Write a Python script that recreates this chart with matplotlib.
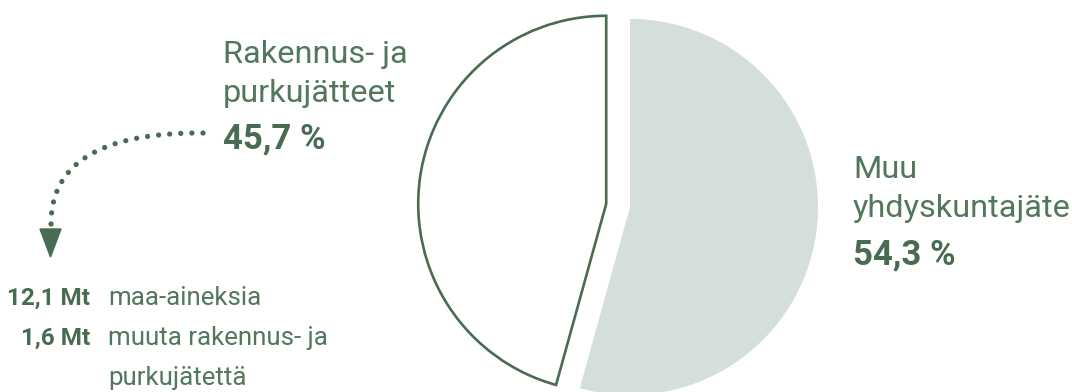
import numpy as np
import matplotlib
matplotlib.use("Agg")
import matplotlib.pyplot as plt
from matplotlib.patches import Polygon

# ---- data ----
categories = ["Rakennus- ja\npurkujätteet", "Muu\nyhdyskuntajäte"]
shares = [45.7, 54.3]
share_labels = ["45,7 %", "54,3 %"]
detail_values = ["12,1 Mt", "1,6 Mt"]
detail_labels = ["maa-aineksia", "muuta rakennus- ja\npurkujätettä"]

# ---- style ----
W, H = 1072, 392
dark = "#496b52"
text_c = "#52775d"
fill_c = "#d4dfd9"
FONT = "Roboto"

fig = plt.figure(figsize=(W / 100, H / 100), dpi=100)
ax = fig.add_axes([0, 0, 1, 1])

R = 188
wedges, _ = ax.pie(shares, startangle=90, counterclock=True,
                   center=(630, H - 207), radius=R,
                   explode=[24, 0], colors=["white", fill_c],
                   frame=True)
ax.set_xlim(0, W)
ax.set_ylim(0, H)
ax.set_aspect("equal")
ax.axis("off")
wedges[0].set_edgecolor(dark)
wedges[0].set_linewidth(1.9)
wedges[0].set_joinstyle("miter")
wedges[1].set_edgecolor("none")
for w in wedges:
    w.set_clip_on(True)

# ---- labels ----
lab_fs = 23.4
num_fs = 25
c0a, c0b = categories[0].split("\n")
c1a, c1b = categories[1].split("\n")
ax.text(223, H - 63, c0a, fontsize=lab_fs, color=text_c,
        family=FONT, va="baseline", ha="left")
ax.text(223, H - 102, c0b, fontsize=lab_fs, color=text_c,
        family=FONT, va="baseline", ha="left")
ax.text(223, H - 148, share_labels[0], fontsize=num_fs, color=dark,
        family=FONT, weight="bold", va="baseline", ha="left")

ax.text(853, H - 178, c1a, fontsize=lab_fs, color=text_c,
        family=FONT, va="baseline", ha="left")
ax.text(853, H - 217, c1b, fontsize=lab_fs, color=text_c,
        family=FONT, va="baseline", ha="left")
ax.text(853, H - 264, share_labels[1], fontsize=num_fs, color=dark,
        family=FONT, weight="bold", va="baseline", ha="left")

# ---- details ----
det_fs = 18.6
val_fs = 17.5
rows = [305, 345]
ax.text(90, H - rows[0], detail_values[0], fontsize=val_fs, color=dark, family=FONT,
        weight="bold", ha="right", va="baseline")
ax.text(108, H - rows[0], detail_labels[0], fontsize=det_fs, color=text_c, family=FONT,
        ha="left", va="baseline")
ax.text(90, H - rows[1], detail_values[1], fontsize=val_fs, color=dark, family=FONT,
        weight="bold", ha="right", va="baseline")
l1, l2 = detail_labels[1].split("\n")
ax.text(108, H - rows[1], l1, fontsize=det_fs, color=text_c, family=FONT,
        ha="left", va="baseline")
ax.text(108, H - 385, l2, fontsize=det_fs, color=text_c, family=FONT,
        ha="left", va="baseline")

# ---- dotted curved arrow ----
P0 = np.array([203, H - 133.0])
P1 = np.array([51, H - 132.0])
P2 = np.array([51, H - 224.0])
t = np.linspace(0, 1, 2000)
curve = ((1 - t)[:, None] ** 2) * P0 + (2 * (1 - t) * t)[:, None] * P1 + (t[:, None] ** 2) * P2
seg = np.hypot(*np.diff(curve, axis=0).T)
s = np.concatenate([[0], np.cumsum(seg)])
n = int(round(s[-1] / 11.0))
targets = np.linspace(0, s[-1], n + 1)
px = np.interp(targets, s, curve[:, 0])
py = np.interp(targets, s, curve[:, 1])
ax.scatter(px, py, s=14, color=dark, edgecolors="none", zorder=5)
ax.add_patch(Polygon([[40, H - 229], [61, H - 229], [50.5, H - 257]],
                     closed=True, color=dark, zorder=5))

fig.savefig("out.png", dpi=100)
